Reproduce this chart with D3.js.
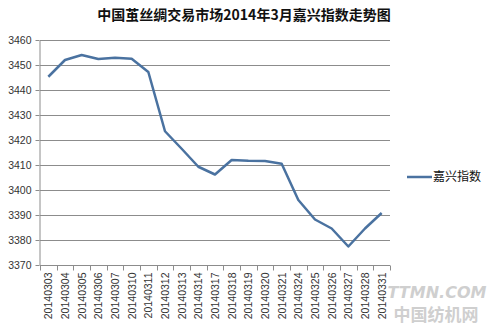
<!DOCTYPE html>
<html>
<head>
<meta charset="utf-8">
<script src="https://cdn.jsdelivr.net/npm/d3@7"></script>
<style>
  body { margin: 0; background: #fff; }
  svg { display: block; }
  .tick text { font-family: "Liberation Sans", Arial, sans-serif; fill: #333; }
</style>
</head>
<body>
<div id="chart"></div>
<script>
const title = '中国茧丝绸交易市场2014年3月嘉兴指数走势图'
const seriesName = '嘉兴指数'
const dates = ['20140303', '20140304', '20140305', '20140306', '20140307', '20140310', '20140311',
  '20140312', '20140313', '20140314', '20140317', '20140318', '20140319', '20140320', '20140321',
  '20140324', '20140325', '20140326', '20140327', '20140328', '20140331']
const values = [3445.3, 3452.0, 3454.0, 3452.4, 3452.9, 3452.5, 3447.2,
  3423.5, 3416.5, 3409.3, 3406.2, 3412.0, 3411.7, 3411.6, 3410.5,
  3396.0, 3388.2, 3384.6, 3377.4, 3384.6, 3390.8]
const yTicks = [3370, 3380, 3390, 3400, 3410, 3420, 3430, 3440, 3450, 3460]

const width = 500
const height = 327
const margin = { top: 40, right: 110, bottom: 62, left: 40 }

const svg = d3.select('#chart').append('svg')
  .attr('width', width)
  .attr('height', height)

// title
svg.append('text')
  .attr('x', 244)
  .attr('y', 20)
  .attr('text-anchor', 'middle')
  .attr('font-family', '"Noto Sans CJK SC", sans-serif')
  .attr('font-weight', 'bold')
  .attr('font-size', 14)
  .attr('fill', '#111')
  .text(title)

const x = d3.scaleBand().domain(dates).range([margin.left, width - margin.right])
const y = d3.scaleLinear().domain([3370, 3460]).range([height - margin.bottom, margin.top])

// gridlines
svg.append('g')
  .selectAll('line')
  .data(yTicks.slice(1))
  .join('line')
  .attr('x1', margin.left)
  .attr('x2', width - margin.right)
  .attr('y1', d => Math.round(y(d)) + 0.5)
  .attr('y2', d => Math.round(y(d)) + 0.5)
  .attr('stroke', '#8c8c8c')

// y axis
const yAxis = svg.append('g')
  .attr('transform', `translate(${margin.left - 0.5},0)`)
  .call(d3.axisLeft(y).tickValues(yTicks).tickFormat(d3.format('d')).tickSize(4).tickSizeOuter(0).tickPadding(4))
yAxis.select('.domain').attr('stroke', '#8c8c8c')
yAxis.selectAll('.tick line').attr('stroke', '#8c8c8c')
yAxis.selectAll('.tick text').attr('font-size', 10.5).attr('dy', '0.35em')

// x axis with boundary tick marks
const xAxisG = svg.append('g')
  .attr('transform', `translate(0,${height - margin.bottom + 0.5})`)
xAxisG.append('line')
  .attr('x1', margin.left)
  .attr('x2', width - margin.right)
  .attr('stroke', '#8c8c8c')
xAxisG.selectAll('.bound')
  .data(dates.concat(['end']))
  .join('line')
  .attr('class', 'bound')
  .attr('x1', (d, i) => Math.round(margin.left + i * x.step()) + 0.5)
  .attr('x2', (d, i) => Math.round(margin.left + i * x.step()) + 0.5)
  .attr('y1', 0)
  .attr('y2', 5)
  .attr('stroke', '#8c8c8c')
xAxisG.selectAll('.lbl')
  .data(dates)
  .join('text')
  .attr('class', 'lbl')
  .attr('transform', d => `translate(${x(d) + x.bandwidth() / 2 + 4},7) rotate(-90)`)
  .attr('text-anchor', 'end')
  .attr('font-family', '"Liberation Sans", Arial, sans-serif')
  .attr('font-size', 10.5)
  .attr('fill', '#333')
  .text(d => d)

// series line
const line = d3.line()
  .x((d, i) => x(dates[i]) + x.bandwidth() / 2)
  .y(d => y(d))

svg.append('path')
  .datum(values)
  .attr('d', line)
  .attr('fill', 'none')
  .attr('stroke', '#4a72a0')
  .attr('stroke-width', 2.5)
  .attr('stroke-linejoin', 'round')

// legend
const legend = svg.append('g').attr('transform', 'translate(407,177)')
legend.append('line')
  .attr('x1', 0).attr('x2', 25)
  .attr('stroke', '#4a72a0')
  .attr('stroke-width', 2.5)
legend.append('text')
  .attr('x', 26)
  .attr('dy', '0.35em')
  .attr('font-family', '"Noto Sans CJK SC", sans-serif')
  .attr('font-size', 12)
  .attr('fill', '#111')
  .text(seriesName)

// watermark
svg.append('text')
  .attr('x', 437).attr('y', 298)
  .attr('text-anchor', 'middle')
  .attr('font-family', '"DejaVu Sans", sans-serif')
  .attr('font-weight', 'bold')
  .attr('font-style', 'italic')
  .attr('font-size', 16)
  .attr('fill', '#cfcfcf')
  .text('TTMN.COM')
svg.append('text')
  .attr('x', 436).attr('y', 321)
  .attr('text-anchor', 'middle')
  .attr('font-family', '"Noto Sans CJK SC", sans-serif')
  .attr('font-weight', 'bold')
  .attr('font-size', 17)
  .attr('fill', '#cfcfcf')
  .text('中国纺机网')
</script>
</body>
</html>
